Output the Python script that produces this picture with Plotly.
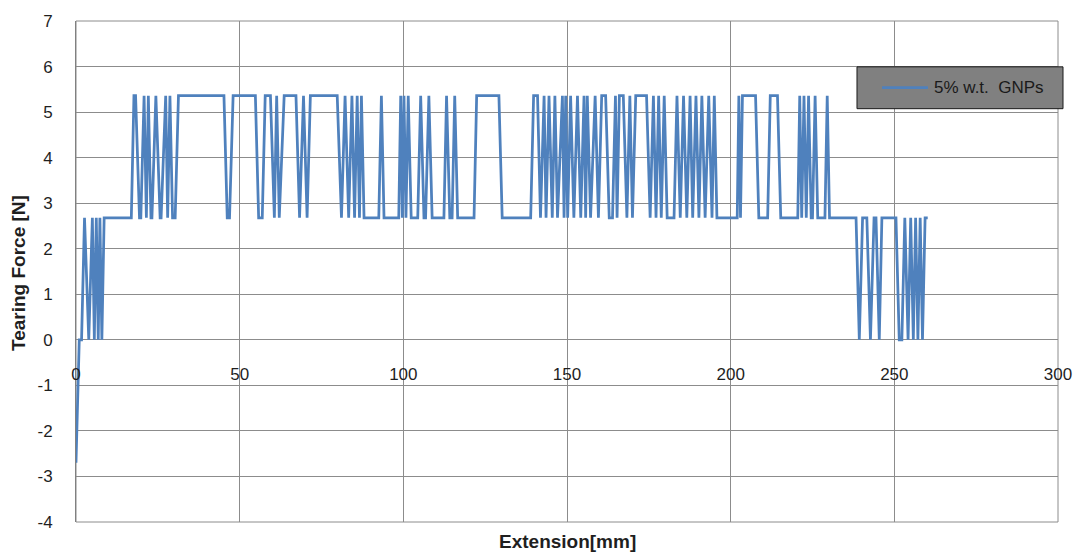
import plotly.graph_objects as go

# Tearing test trace: extension (mm) vs. tearing force (N), 5% w.t. GNPs sample
extension_mm = [
    0.0, 1.0, 1.7, 2.6, 3.9, 5.0, 5.6, 6.2, 6.8, 7.3, 7.9, 8.6,
    16.9, 17.7, 18.2, 19.4, 19.8, 20.8, 21.5, 22.1, 22.9, 23.2, 24.4, 25.7,
    26.0, 27.4, 28.0, 28.7, 29.5, 30.3, 31.3,
    45.2, 46.2, 46.9, 48.0, 54.8, 55.8, 56.9, 57.8, 59.4, 60.6, 61.3, 62.1,
    63.6, 67.2, 68.3, 69.5, 70.6, 71.6,
    79.8, 81.1, 82.2, 83.3, 84.3, 85.1, 85.9, 86.6, 87.2, 88.0, 92.5, 93.3,
    94.1, 98.6, 99.2, 99.7, 100.2, 100.8, 101.5, 102.4, 104.4, 105.3, 106.3,
    106.8, 107.8, 108.8, 112.4, 113.2, 114.2, 114.9, 115.7, 116.6, 121.6,
    122.4, 129.2, 130.2, 138.9, 139.8, 141.0, 141.9, 143.0, 143.6, 144.5,
    145.5, 146.3, 147.1, 148.6, 149.1, 149.6, 150.2, 151.1, 152.1, 153.2,
    154.2, 155.2, 155.7, 156.2, 157.2, 158.6, 159.6, 160.6, 161.8,
    162.9, 163.9, 164.8, 165.3, 166.0, 167.2, 168.3, 169.2, 170.0, 171.0,
    174.3, 175.4, 176.4, 177.2, 178.0, 178.8, 179.7, 180.6, 181.8, 182.7,
    183.6, 184.6, 185.6, 186.6, 187.6, 188.4, 189.4, 190.3, 191.2, 192.2,
    193.3, 194.3, 195.0, 195.8, 202.0, 202.5, 203.0, 203.6, 207.6, 208.6,
    211.3, 212.1, 214.3, 215.3, 220.5, 221.1, 221.7, 222.4, 223.1, 223.8,
    224.6, 225.0, 225.8, 226.6, 228.8, 229.5, 230.2,
    238.3, 239.3, 240.3, 241.6, 242.7, 243.8, 244.4, 245.4, 246.2, 250.5,
    251.5, 252.3, 253.2, 254.2, 255.0, 255.8, 256.5, 257.2, 257.9, 258.6,
    259.4, 260.2,
]

tearing_force_n = [
    -2.70, 0.0, 0.0, 2.68, 0.0, 2.68, 0.0, 2.68, 0.0, 2.68, 0.0, 2.68,
    2.68, 5.36, 5.36, 2.68, 2.68, 5.36, 2.68, 5.36, 2.68, 2.68, 5.36, 2.68,
    2.68, 5.36, 2.68, 5.36, 2.68, 2.68, 5.36,
    5.36, 2.68, 2.68, 5.36, 5.36, 2.68, 2.68, 5.36, 5.36, 2.68, 5.36, 2.68,
    5.36, 5.36, 2.68, 5.36, 2.68, 5.36,
    5.36, 2.68, 5.36, 2.68, 5.36, 2.68, 5.36, 2.68, 5.36, 2.68, 2.68, 5.36,
    2.68, 2.68, 5.36, 2.68, 5.36, 2.68, 5.36, 2.68, 2.68, 5.36, 2.68,
    2.68, 5.36, 2.68, 2.68, 5.36, 2.68, 2.68, 5.36, 2.68, 2.68,
    5.36, 5.36, 2.68, 2.68, 5.36, 5.36, 2.68, 5.36, 2.68, 5.36,
    2.68, 5.36, 2.68, 5.36, 2.68, 5.36, 2.68, 5.36, 2.68, 5.36,
    2.68, 5.36, 2.68, 5.36, 2.68, 5.36, 2.68, 5.36, 5.36,
    2.68, 2.68, 5.36, 2.68, 5.36, 5.36, 2.68, 5.36, 2.68, 5.36,
    5.36, 2.68, 5.36, 2.68, 5.36, 2.68, 5.36, 2.68, 2.68, 2.68,
    5.36, 2.68, 5.36, 2.68, 5.36, 2.68, 5.36, 2.68, 5.36, 2.68,
    5.36, 2.68, 5.36, 2.68, 2.68, 5.36, 2.68, 5.36, 5.36, 2.68,
    2.68, 5.36, 5.36, 2.68, 2.68, 5.36, 2.68, 5.36, 2.68, 5.36,
    2.68, 2.68, 5.36, 2.68, 2.68, 5.36, 2.68,
    2.68, 0.0, 2.68, 2.68, 0.0, 2.68, 2.68, 0.0, 2.68, 2.68,
    0.0, 0.0, 2.68, 0.0, 2.68, 0.0, 2.68, 0.0, 2.68, 0.0,
    2.68, 2.68,
]

series_name = "5% w.t.\u00a0\u00a0GNPs"
x_ticks = [0, 50, 100, 150, 200, 250, 300]
y_ticks = [-4, -3, -2, -1, 0, 1, 2, 3, 4, 5, 6, 7]
y_tick_text = [str(v) for v in y_ticks]  # plain hyphen-minus for negatives

LINE_BLUE = "#4F81BD"
GRID = "#8c8c8c"
TEXT = "#1f1f1f"
FONT = "Liberation Sans"

fig = go.Figure()
fig.add_trace(go.Scatter(
    x=extension_mm, y=tearing_force_n, mode="lines", name=series_name,
    line=dict(color=LINE_BLUE, width=2.75), showlegend=False,
))

fig.update_layout(
    width=1086, height=556,
    margin=dict(l=76, r=28, t=19, b=34),
    paper_bgcolor="white", plot_bgcolor="white",
    font=dict(family=FONT, size=17, color=TEXT),
    xaxis=dict(
        range=[0, 300], tickvals=x_ticks, showgrid=True, gridcolor=GRID,
        gridwidth=1, zeroline=False, showline=False,
        anchor="free", position=4 / 11,
        ticks="outside", ticklen=19, tickcolor="rgba(0,0,0,0)",
        tickfont=dict(size=17, color=TEXT),
    ),
    yaxis=dict(
        range=[-4, 7], tickvals=y_ticks, ticktext=y_tick_text,
        showgrid=True, gridcolor=GRID,
        gridwidth=1, zeroline=True, zerolinecolor=GRID, zerolinewidth=1,
        showline=True, linecolor="#808080", linewidth=1,
        ticks="outside", ticklen=19, tickcolor="rgba(0,0,0,0)",
        tickfont=dict(size=17, color=TEXT),
    ),
    shapes=[
        # plot-area frame
        dict(type="rect", xref="paper", yref="paper", x0=0, x1=1, y0=0, y1=1,
             line=dict(color="#8c8c8c", width=1), layer="below"),
        # legend box
        dict(type="rect", xref="paper", yref="paper",
             x0=0.7953, x1=1.0051, y0=0.8250, y1=0.9085,
             fillcolor="#808080", line=dict(color="#1a1a1a", width=1)),
        dict(type="line", xref="paper", yref="paper",
             x0=0.8208, x1=0.8676, y0=0.8668, y1=0.8668,
             line=dict(color=LINE_BLUE, width=2.75)),
    ],
    annotations=[
        dict(text=series_name, xref="paper", yref="paper", x=0.8717, y=0.8668,
             xanchor="left", yanchor="middle", showarrow=False,
             font=dict(size=17, color="#1a1a1a", family=FONT)),
        dict(text="<b>Extension[mm]</b>", xref="paper", yref="paper",
             x=0.5, y=0, yshift=-19, xanchor="center", yanchor="middle",
             showarrow=False, font=dict(size=19, color=TEXT, family=FONT)),
        dict(text="<b>Tearing Force [N]</b>", xref="paper", yref="paper",
             x=0, xshift=-58, y=0.497, xanchor="center", yanchor="middle",
             textangle=-90, showarrow=False,
             font=dict(size=19, color=TEXT, family=FONT)),
    ],
)

fig.write_html("out.html")
